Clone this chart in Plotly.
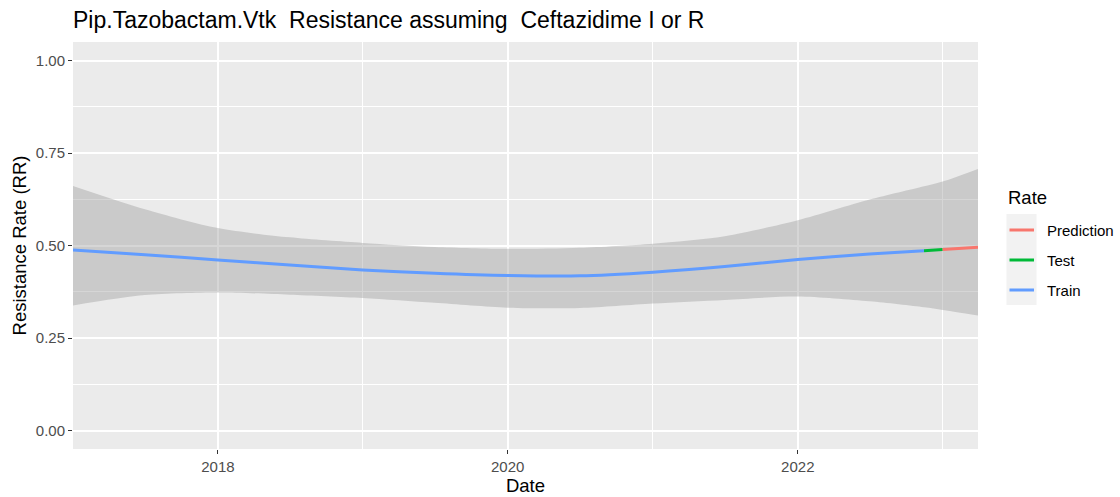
import plotly.graph_objects as go

# Smoothed resistance rate with its confidence band
dates = ["2017-01-01", "2017-07-01", "2018-01-01", "2018-07-01", "2019-01-01",
         "2019-07-01", "2020-01-01", "2020-07-01", "2021-01-01", "2021-07-01",
         "2022-01-01", "2022-07-01", "2022-11-15", "2023-01-01", "2023-03-31"]
fit = [0.488, 0.475, 0.461, 0.447, 0.434, 0.425, 0.419, 0.418, 0.428, 0.443,
       0.462, 0.477, 0.486, 0.489, 0.495]
upper = [0.661, 0.598, 0.547, 0.522, 0.507, 0.496, 0.491, 0.494, 0.505, 0.525,
         0.568, 0.624, 0.660, 0.673, 0.707]
lower = [0.338, 0.366, 0.373, 0.367, 0.358, 0.345, 0.332, 0.331, 0.343, 0.353,
         0.362, 0.349, 0.333, 0.326, 0.311]

# Segment boundaries: train up to test_start, test up to pred_start, then prediction
test_start = "2022-11-15"
pred_start = "2023-01-01"

series_names = ["Prediction", "Test", "Train"]
series_colors = {"Prediction": "#F8766D", "Test": "#00BA38", "Train": "#619CFF"}

y_ticks = [0.0, 0.25, 0.5, 0.75, 1.0]
y_tick_labels = ["0.00", "0.25", "0.50", "0.75", "1.00"]

FONT = "Liberation Sans, Arial, sans-serif"

i_test = dates.index(test_start)
i_pred = dates.index(pred_start)
segments = {
    "Train": slice(0, i_test + 1),
    "Test": slice(i_test, i_pred + 1),
    "Prediction": slice(i_pred, len(dates)),
}

fig = go.Figure()

# Confidence ribbon: lower bound, then upper bound filled down to it
fig.add_trace(go.Scatter(
    x=dates, y=lower, mode="lines", line=dict(width=0, shape="spline", smoothing=0.8),
    hoverinfo="skip", showlegend=False))
fig.add_trace(go.Scatter(
    x=dates, y=upper, mode="lines", line=dict(width=0, shape="spline", smoothing=0.8),
    fill="tonexty", fillcolor="rgba(153,153,153,0.4)",
    hoverinfo="skip", showlegend=False))

for name in ["Train", "Test", "Prediction"]:
    s = segments[name]
    fig.add_trace(go.Scatter(
        x=dates[s], y=fit[s], mode="lines", name=name,
        line=dict(color=series_colors[name], width=3, shape="spline", smoothing=0.8),
        showlegend=False))

# Legend drawn in paper space to the right of the panel
W, H = 1120, 497
L, R, T, B = 73, 142, 42, 48
pw, ph = W - L - R, H - T - B


def px_x(p):
    return (p - L) / pw


def px_y(p):
    return (H - B - p) / ph


fig.add_annotation(x=px_x(1006), y=px_y(198), xref="paper", yref="paper",
                   text="Rate", showarrow=False, xanchor="left", yanchor="middle",
                   font=dict(family=FONT, size=18.5, color="black"))
fig.add_shape(type="rect", xref="paper", yref="paper",
              x0=px_x(1006.5), x1=px_x(1036.5), y0=px_y(214), y1=px_y(305),
              fillcolor="#f2f2f2", line=dict(width=0), layer="above")
for k, name in enumerate(series_names):
    yc = 230 + 30 * k
    fig.add_shape(type="line", xref="paper", yref="paper",
                  x0=px_x(1009.5), x1=px_x(1034), y0=px_y(yc), y1=px_y(yc),
                  line=dict(color=series_colors[name], width=3), layer="above")
    fig.add_annotation(x=px_x(1045), y=px_y(yc), xref="paper", yref="paper",
                       text=name, showarrow=False, xanchor="left", yanchor="middle",
                       font=dict(family=FONT, size=15, color="black"))

fig.update_layout(
    width=W, height=H,
    margin=dict(l=L, r=R, t=T, b=B, autoexpand=False),
    paper_bgcolor="white", plot_bgcolor="#ebebeb",
    font=dict(family=FONT, color="#4d4d4d"),
    title=dict(text="Pip.Tazobactam.Vtk  Resistance assuming  Ceftazidime I or R",
               x=0, xref="paper", xanchor="left",
               y=1 - 20 / H, yref="container", yanchor="middle",
               font=dict(family=FONT, size=23, color="black")),
    showlegend=False,
)

fig.update_xaxes(
    type="date", range=["2017-01-01", "2023-03-31"],
    tick0="2018-01-01", dtick="M24", tickformat="%Y",
    showgrid=True, gridcolor="white", gridwidth=1.5,
    minor=dict(dtick="M12", tick0="2017-01-01", showgrid=True,
               gridcolor="white", gridwidth=0.7),
    ticks="outside", ticklen=4, tickwidth=1, tickcolor="#333333",
    tickfont=dict(family=FONT, size=15, color="#4d4d4d"),
    zeroline=False, showline=False, automargin=False,
    title=dict(text="Date", standoff=4,
               font=dict(family=FONT, size=18.5, color="black")),
)

fig.update_yaxes(
    range=[-0.05, 1.05], tickvals=y_ticks, ticktext=y_tick_labels,
    showgrid=True, gridcolor="white", gridwidth=1.5,
    minor=dict(tickvals=[0.125, 0.375, 0.625, 0.875], showgrid=True,
               gridcolor="white", gridwidth=0.7),
    ticks="outside", ticklen=4, tickwidth=1, tickcolor="#333333",
    tickfont=dict(family=FONT, size=15, color="#4d4d4d"),
    zeroline=False, showline=False, automargin=False,
    title=dict(text="Resistance Rate (RR)", standoff=4,
               font=dict(family=FONT, size=18.5, color="black")),
)

fig.write_html("out.html")
